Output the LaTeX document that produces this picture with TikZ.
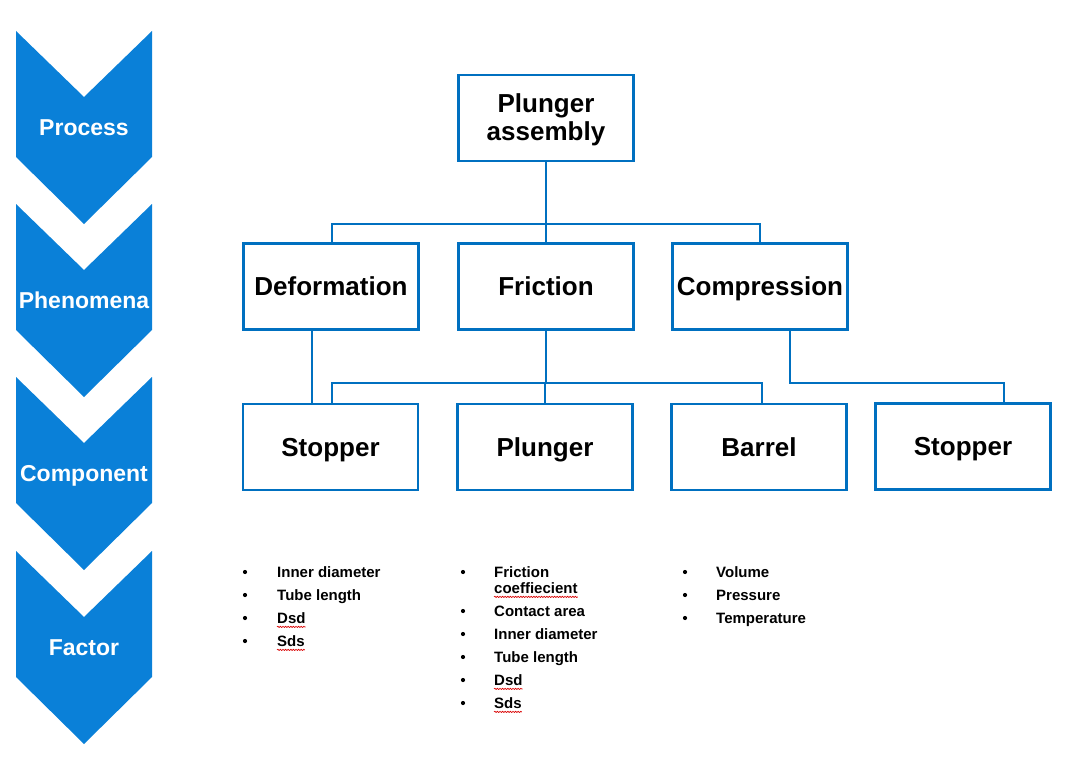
\documentclass[tikz,border=0pt]{standalone}
\usepackage{fontspec}
\setmainfont{Liberation Sans}
\usetikzlibrary{decorations.pathmorphing}
\definecolor{chev}{HTML}{0A80D8}
\definecolor{bord}{HTML}{0070C0}
\begin{document}
\begin{tikzpicture}[x=1pt,y=-1pt,
  box/.style={draw=bord,line width=2.8pt,minimum width=175pt,minimum height=86pt,inner sep=0pt,
    font=\fontsize{26}{28}\selectfont\bfseries,align=center},
  one/.style={text height=21.5pt,text depth=3pt},
  boxtext/.style={inner sep=0pt,font=\fontsize{26}{28}\selectfont\bfseries,align=center},
  conn/.style={draw=bord,line width=2.5pt},
  chevlabel/.style={text=white,font=\fontsize{23}{25}\selectfont\bfseries,inner sep=0pt,text height=19.5pt,text depth=3pt},
  item/.style={anchor=base west,inner sep=0pt,font=\fontsize{15}{17}\selectfont\bfseries},
  bul/.style={circle,fill=black,inner sep=0pt,minimum size=4.2pt},
  spell/.style={draw=red!85!black,line width=0.7pt,decorate,decoration={snake,amplitude=0.6pt,segment length=2.6pt}}]
\useasboundingbox (0,0) rectangle (1069,760);
% chevrons
\foreach \t/\lab/\nm in {31/Process/c1,204/Phenomena/c2,377/Component/c3,551/Factor/c4}{
  \fill[chev] (16,\t) -- (84,\t+66) -- (152,\t) -- (152,\t+126) -- (84,\t+193) -- (16,\t+126) -- cycle;
  \node[chevlabel] (\nm) at (84,\t+96) {\lab};
}
% boxes
\node[box] (pa) at (546,118) {};
\node[boxtext] (pat) at (546,120) {Plunger\\[0pt]assembly};
\node[box,one] (def) at (331,286.5) {Deformation};
\node[box,one] (fric) at (546,286.5) {Friction};
\node[box,one] (comp) at (760,286.5) {Compression};
\node[box,one] (st1) at (330.5,447) {Stopper};
\node[box,one] (pl) at (545,447) {Plunger};
\node[box,one] (bar) at (759,447) {Barrel};
\node[box,one] (st2) at (963,446.5) {Stopper};
% top connectors
\coordinate (j1) at (546,224);
\draw[conn] (pa.south) -- (j1);
\draw[conn] ([xshift=1pt]def.north) |- (j1) -| (comp.north);
\draw[conn] (fric.north) -- (j1);
% lower connectors
\draw[conn] ([xshift=-19pt]def.south) -- ([xshift=-19pt]def.south |- st1.north);
\coordinate (j2) at (546,383);
\draw[conn] (fric.south) -- (j2);
\draw[conn] ([xshift=1.5pt]st1.north) |- (j2) -| ([xshift=3pt]bar.north);
\draw[conn] (pl.north) -- (pl.north |- j2);
\draw[conn] ([xshift=30pt]comp.south) |- ([xshift=41pt]st2.north |- j2) -- ([xshift=41pt]st2.north);
% factor lists
\foreach \y/\txt/\nm [count=\i] in {572/Inner diameter/a1,595/Tube length/a2,618/Dsd/a3,641/Sds/a4}{
  \node[bul] (ba\i) at (245,\y) {};
  \node[item] (\nm) at (277,\y+5.4) {\txt};
}
\node[bul] (bb1) at (463,572) {};
\node[item] (b1) at (494,577.4) {Friction};
\node[item] (b1b) at (494,593.4) {coeffiecient};
\foreach \y/\txt/\nm [count=\i from 2] in {611/Contact area/b2,634/Inner diameter/b3,657/Tube length/b4,680/Dsd/b5,703/Sds/b6}{
  \node[bul] (bb\i) at (463,\y) {};
  \node[item] (\nm) at (494,\y+5.4) {\txt};
}
\foreach \y/\txt/\nm [count=\i] in {572/Volume/c1,595/Pressure/c2,618/Temperature/c3}{
  \node[bul] (bc\i) at (685,\y) {};
  \node[item] (\nm) at (716,\y+5.4) {\txt};
}
% spell-check underlines
\foreach \n in {a3,a4,b1b,b5,b6}{
  \draw[spell] ([yshift=-3.5pt]\n.base west) -- ([yshift=-3.5pt]\n.base east);
}
\end{tikzpicture}
\end{document}
